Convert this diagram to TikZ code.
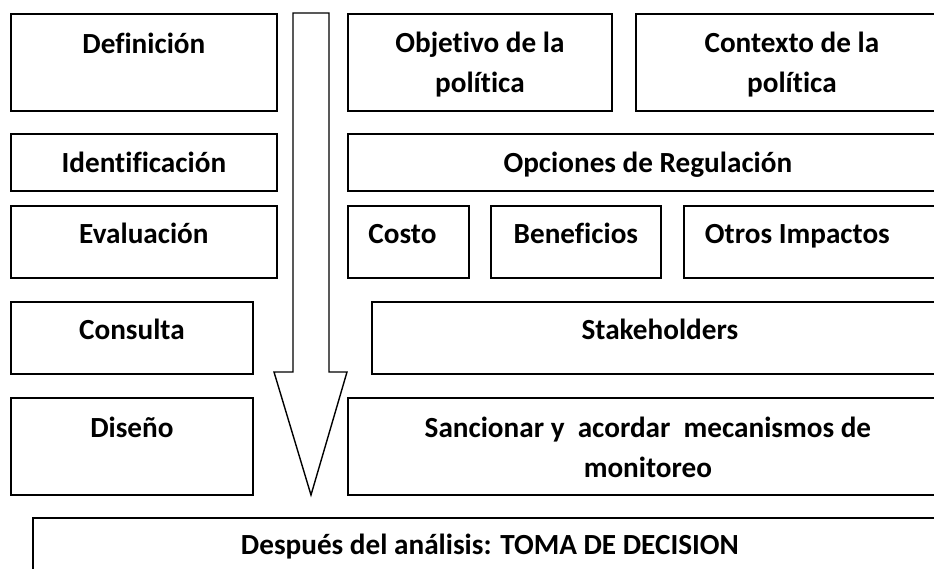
\documentclass[tikz,border=0pt]{standalone}
\usepackage{fontspec}
\setmainfont{Carlito}[Ligatures=CommonOff]
\begin{document}
\begin{tikzpicture}[x=1pt,y=-1pt,line join=miter,
    box/.style={draw,line width=1.8pt,inner sep=0pt,anchor=north west},
    lbl/.style={font=\fontsize{29.2}{40}\selectfont\bfseries,anchor=base,align=center,inner sep=0pt}]
  \clip (0,0) rectangle (934,568);
  \fill[white] (0,0) rectangle (934,568);
  % left column
  \node[box,minimum width=266,minimum height=97] (def) at (10,13) {};
  \node[box,minimum width=266,minimum height=57] (ident) at (10,133) {};
  \node[box,minimum width=266,minimum height=72] (eval) at (10,205) {};
  \node[box,minimum width=242,minimum height=72] (cons) at (10,301) {};
  \node[box,minimum width=242,minimum height=97] (dis) at (10,397) {};
  % right column
  \node[box,minimum width=264,minimum height=97] (obj) at (347,13) {};
  \node[box,minimum width=312,minimum height=97] (ctx) at (635,13) {};
  \node[box,minimum width=600,minimum height=57] (opc) at (347,133) {};
  \node[box,minimum width=121,minimum height=72] (costo) at (347,205) {};
  \node[box,minimum width=170,minimum height=72] (benef) at (490,205) {};
  \node[box,minimum width=264,minimum height=72] (otros) at (683,205) {};
  \node[box,minimum width=576,minimum height=72] (stake) at (371,301) {};
  \node[box,minimum width=600,minimum height=97] (sanc) at (347,397) {};
  \node[box,minimum width=914,minimum height=80] (toma) at (32,517) {};
  % labels (base = last line)
  \node[lbl] (tdef) at ([yshift=-40pt]def.north) {Definición};
  \node[lbl] (tident) at ([yshift=-39pt]ident.north) {Identificación};
  \node[lbl] (teval) at ([yshift=-38pt]eval.north) {Evaluación};
  \node[lbl] (tcons) at ([yshift=-38pt]cons.north) {Consulta};
  \node[lbl] (tdis) at ([yshift=-40pt]dis.north) {Diseño};
  \node[lbl] (tobj) at ([yshift=-79pt]obj.north) {Objetivo de la\\política};
  \node[lbl] (tctx) at ([yshift=-79pt]ctx.north) {Contexto de la\\política};
  \node[lbl] (topc) at ([yshift=-39pt]opc.north) {Opciones de Regulación};
  \node[lbl] (tcosto) at ([xshift=-6pt,yshift=-38pt]costo.north) {Costo};
  \node[lbl] (tbenef) at ([yshift=-38pt]benef.north) {Beneficios};
  \node[lbl] (totros) at ([xshift=-18.5pt,yshift=-38pt]otros.north) {Otros Impactos};
  \node[lbl] (tstake) at ([yshift=-38pt]stake.north) {Stakeholders};
  \node[lbl] (tsanc) at ([yshift=-80pt]sanc.north) {Sancionar y\ \ acordar\ \ mecanismos de\\monitoreo};
  \node[lbl] (ttoma) at ([yshift=-37pt]toma.north) {Después del análisis: TOMA DE DECISION};
  % flecha
  \coordinate (tip) at (311,495);
  \draw[line width=1.4pt] (293,13) -- (329,13) -- (329,372) -- (347,372) -- (tip)
    -- (274,372) -- (293,372) -- cycle;
\end{tikzpicture}
\end{document}
